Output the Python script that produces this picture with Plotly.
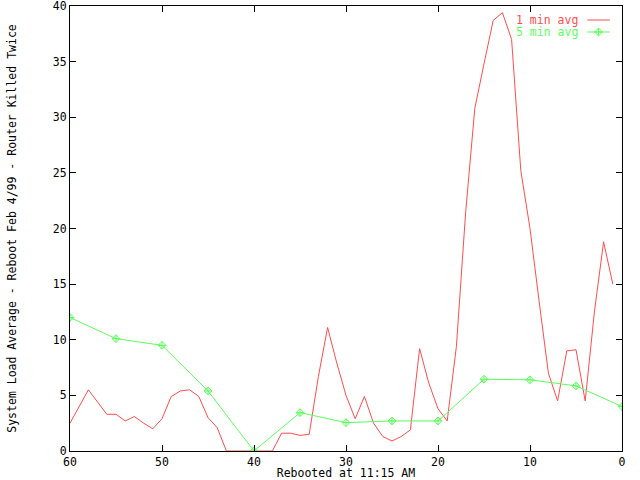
"""
Router load average after reboot, gnuplot-like look.
"""

import plotly.graph_objects as go

# Minutes before now (x axis runs 60 -> 0)
minutes_1 = list(range(60, 0, -1))
load_1min = [
    2.5, 4.0, 5.5, 4.4, 3.3, 3.3, 2.7, 3.1, 2.5, 2.0,
    2.9, 4.9, 5.4, 5.5, 4.9, 3.0, 2.1, 0.0, 0.0, 0.0,
    0.0, 0.0, 0.0, 1.6, 1.6, 1.4, 1.5, 6.7, 11.1, 7.9,
    5.0, 2.9, 4.9, 2.5, 1.3, 0.9, 1.3, 1.9, 9.2, 6.1,
    3.8, 2.7, 9.4, 21.4, 30.8, 34.8, 38.7, 39.4, 37.0, 25.2,
    20.0, 13.4, 7.0, 4.5, 9.0, 9.1, 4.5, 12.5, 18.8, 15.0,
]

minutes_5 = [60, 55, 50, 45, 40, 35, 30, 25, 20, 15, 10, 5, 0]
load_5min = [12.0, 10.1, 9.5, 5.4, 0.0, 3.45, 2.55, 2.7, 2.7, 6.45, 6.4, 5.85, 4.0]

x_ticks = [60, 50, 40, 30, 20, 10, 0]
y_ticks = [0, 5, 10, 15, 20, 25, 30, 35, 40]

RED = "#ff4d4d"
GREEN = "#5cff5c"
FONT = "DejaVu Sans Mono"


def main():
    fig = go.Figure()

    fig.add_trace(go.Scatter(
        x=minutes_1, y=load_1min, mode="lines", name="1 min avg",
        line=dict(color=RED, width=1),
    ))
    fig.add_trace(go.Scatter(
        x=minutes_5, y=load_5min, mode="lines+markers", name="5 min avg",
        line=dict(color=GREEN, width=1),
        marker=dict(symbol="diamond-cross-open", size=6, color=GREEN, line=dict(width=1, color=GREEN)),
    ))

    # gnuplot style key: text on the left, sample on the right
    key_y = [0.9685, 0.9416]
    names = ["1 min avg", "5 min avg"]
    colors = [RED, GREEN]
    for ky, nm, col in zip(key_y, names, colors):
        fig.add_annotation(
            text=nm, xref="paper", yref="paper", x=0.924, y=ky,
            xanchor="right", yanchor="middle", showarrow=False,
            font=dict(family=FONT, size=11.5, color=col),
        )
        fig.add_shape(
            type="line", xref="paper", yref="paper",
            x0=0.937, x1=0.978, y0=ky, y1=ky,
            line=dict(color=col, width=1),
        )
    # marker in the green key sample, on a hidden overlay axis
    fig.add_trace(go.Scatter(
        x=[0.9575], y=[key_y[1]], xaxis="x2", yaxis="y2", mode="markers",
        marker=dict(symbol="diamond-cross-open", size=6, color=GREEN, line=dict(width=1, color=GREEN)),
        showlegend=False, hoverinfo="skip",
    ))

    axis_common = dict(
        showgrid=False, zeroline=False, automargin=False,
        showline=True, linecolor="black", linewidth=1, mirror="ticks",
        ticks="inside", ticklen=6, tickcolor="black", tickwidth=1,
        ticklabeloverflow="allow",
        tickfont=dict(family=FONT, size=11.5, color="black"),
    )
    fig.update_xaxes(
        range=[60, 0], tickvals=x_ticks,
        title=dict(text="Rebooted at 11:15 AM", standoff=1,
                   font=dict(family=FONT, size=11.5, color="black")),
        **axis_common,
    )
    fig.update_yaxes(
        range=[0, 40], tickvals=y_ticks,
        title=dict(text="System Load Average - Reboot Feb 4/99 - Router Killed Twice", standoff=33,
                   font=dict(family=FONT, size=11.5, color="black")),
        **axis_common,
    )

    fig.update_layout(
        width=640, height=480,
        margin=dict(l=70, r=18, t=6, b=29),
        paper_bgcolor="white", plot_bgcolor="white",
        showlegend=False,
        xaxis2=dict(overlaying="x", range=[0, 1], visible=False),
        yaxis2=dict(overlaying="y", range=[0, 1], visible=False),
    )

    # drop the page's default body margin so the figure sits at the window corner
    fig.write_html(
        "out.html",
        config={"displayModeBar": False},
        post_script="document.body.style.margin='0';",
    )


if __name__ == "__main__":
    main()
